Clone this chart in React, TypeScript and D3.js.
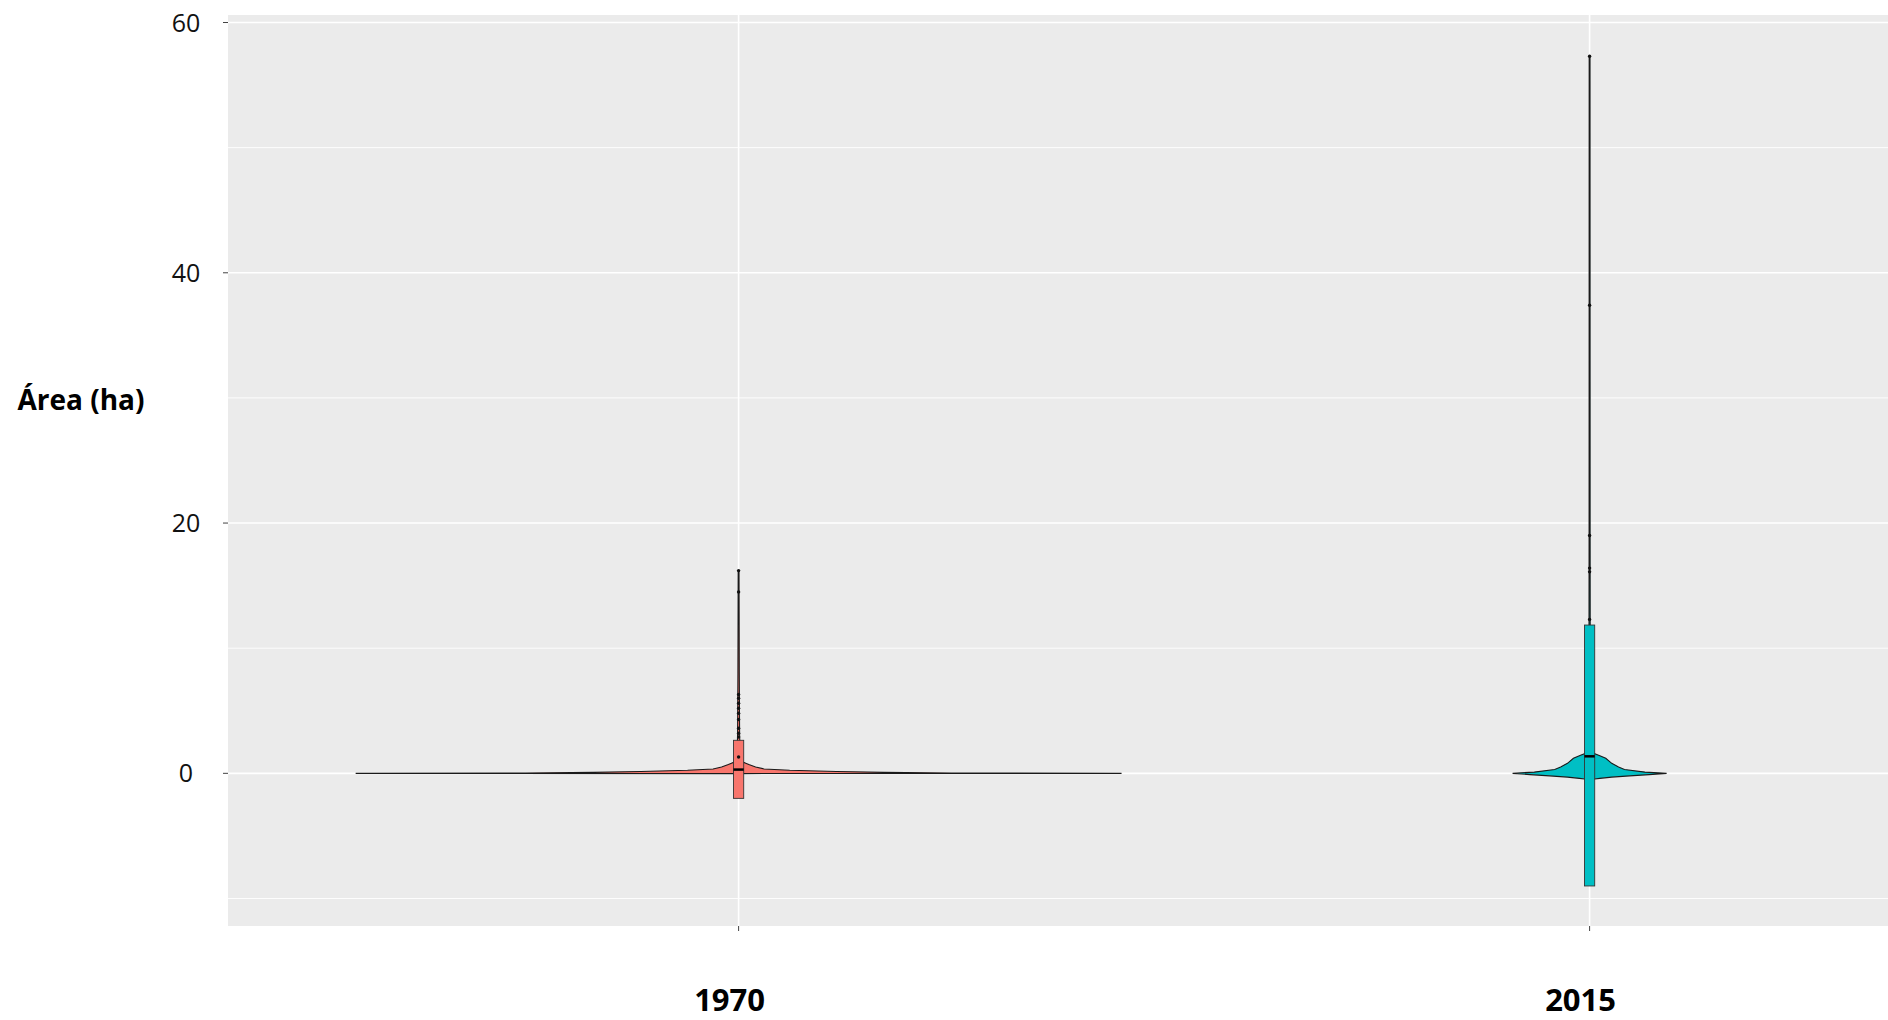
import React, { useRef, useEffect } from "react";
import * as d3 from "d3";

// categories and colours
const years = ["1970", "2015"];
const fills = ["#F8766D", "#00BFC4"];

// violin outlines: [area value, half width in category units]
const violin1970 = [
  [-0.02, 0], [0.0, 0.45], [0.03, 0.25], [0.08, 0.17], [0.15, 0.115],
  [0.25, 0.06], [0.35, 0.03], [0.5, 0.02], [0.7, 0.012], [0.9, 0.005],
  [1.3, 0.002], [3, 0.0012], [8, 0.0008], [16.2, 0.0005],
];
const violin2015 = [
  [-0.5, 0], [-0.45, 0.006], [-0.4, 0.012], [-0.3, 0.026], [-0.2, 0.047],
  [-0.1, 0.07], [0.0, 0.0905], [0.1, 0.065], [0.3, 0.041], [0.5, 0.034],
  [0.8, 0.026], [1.2, 0.019], [1.44, 0.0106], [1.6, 0.0047], [2.0, 0.0018],
  [5, 0.0008], [20, 0.0006], [57.3, 0.0005],
];

// box: [lower, median, upper]
const boxes = [
  [-2.0, 0.3, 2.64],
  [-9.0, 1.36, 11.85],
];

// outlier points
const outliers1970 = [16.2, 14.5, 6.3, 6.0, 5.6, 5.2, 4.8, 4.3, 3.6, 3.2, 2.9, 1.3];
const outliers2015 = [57.3, 37.4, 19.0, 16.4, 16.1, 12.3];

const yTicks = [0, 20, 40, 60];
const yMinor = [-10, 10, 30, 50];

const App = () => {
  const svgRef = useRef<SVGSVGElement>(null);

  useEffect(() => {
    const svg = d3.select(svgRef.current);
    svg.selectAll("*").remove();

    const W = 1888;
    const panel = { left: 228, top: 15, bottom: 926 };

    const x = d3.scaleLinear().domain([-0.6, 1.6]).range([228, 2100.2]);
    const y = d3.scaleLinear().domain([-12.2, 60.6]).range([panel.bottom, panel.top]);
    const unit = x(1) - x(0);

    svg
      .append("rect")
      .attr("x", panel.left)
      .attr("y", panel.top)
      .attr("width", W - panel.left)
      .attr("height", panel.bottom - panel.top)
      .attr("fill", "#EBEBEB");

    const grid = svg.append("g");
    yMinor.forEach((v) => {
      grid.append("line")
        .attr("x1", panel.left).attr("x2", W)
        .attr("y1", y(v)).attr("y2", y(v))
        .attr("stroke", "#fff").attr("stroke-width", 0.9);
    });
    yTicks.forEach((v) => {
      grid.append("line")
        .attr("x1", panel.left).attr("x2", W)
        .attr("y1", y(v)).attr("y2", y(v))
        .attr("stroke", "#fff").attr("stroke-width", 1.6);
    });
    years.forEach((_, i) => {
      grid.append("line")
        .attr("x1", x(i)).attr("x2", x(i))
        .attr("y1", panel.top).attr("y2", panel.bottom)
        .attr("stroke", "#fff").attr("stroke-width", 1.6);
    });

    // violins
    [violin1970, violin2015].forEach((prof, i) => {
      const area = d3
        .area<number[]>()
        .y((d) => y(d[0]))
        .x0((d) => x(i) - d[1] * unit)
        .x1((d) => x(i) + d[1] * unit);
      svg.append("path")
        .datum(prof)
        .attr("d", area)
        .attr("fill", fills[i])
        .attr("stroke", "#1a1a1a")
        .attr("stroke-width", 1.1);
    });

    // boxes
    const boxHalf = 0.006 * unit;
    boxes.forEach((b, i) => {
      svg.append("rect")
        .attr("x", x(i) - boxHalf)
        .attr("y", y(b[2]))
        .attr("width", boxHalf * 2)
        .attr("height", y(b[0]) - y(b[2]))
        .attr("fill", fills[i])
        .attr("stroke", "#333")
        .attr("stroke-width", 0.9);
      svg.append("line")
        .attr("x1", x(i) - boxHalf).attr("x2", x(i) + boxHalf)
        .attr("y1", y(b[1])).attr("y2", y(b[1]))
        .attr("stroke", "#000").attr("stroke-width", 2.5);
    });

    [outliers1970, outliers2015].forEach((pts, i) => {
      svg.selectAll(`.pt-${i}`)
        .data(pts)
        .enter()
        .append("circle")
        .attr("class", `pt-${i}`)
        .attr("cx", x(i))
        .attr("cy", (d) => y(d))
        .attr("r", 1.7)
        .attr("fill", "#111");
    });

    // y axis
    const yAxis = svg.append("g");
    yTicks.forEach((v) => {
      yAxis.append("line")
        .attr("x1", panel.left - 5).attr("x2", panel.left)
        .attr("y1", y(v)).attr("y2", y(v))
        .attr("stroke", "#444").attr("stroke-width", 1);
      yAxis.append("text")
        .attr("x", 186)
        .attr("y", y(v))
        .attr("dy", "0.36em")
        .attr("text-anchor", "middle")
        .attr("font-family", "Open Sans")
        .attr("font-size", 25)
        .attr("fill", "#111")
        .text(v);
    });

    // x axis
    years.forEach((yr, i) => {
      svg.append("line")
        .attr("x1", x(i)).attr("x2", x(i))
        .attr("y1", panel.bottom).attr("y2", panel.bottom + 5)
        .attr("stroke", "#444").attr("stroke-width", 1);
      svg.append("text")
        .attr("x", x(i) - 9)
        .attr("y", 1011)
        .attr("text-anchor", "middle")
        .attr("font-family", "Open Sans")
        .attr("font-weight", "bold")
        .attr("font-size", 31)
        .attr("fill", "#000")
        .text(yr);
    });

    svg.append("text")
      .attr("x", 81)
      .attr("y", 400)
      .attr("dy", "0.36em")
      .attr("text-anchor", "middle")
      .attr("font-family", "Open Sans")
      .attr("font-weight", "bold")
      .attr("font-size", 28)
      .attr("fill", "#000")
      .text("Área (ha)");
  }, []);

  return (
    <svg
      ref={svgRef}
      width={1888}
      height={1020}
      style={{ position: "absolute", left: 0, top: 0, background: "#fff" }}
    ></svg>
  );
};

export default App;
